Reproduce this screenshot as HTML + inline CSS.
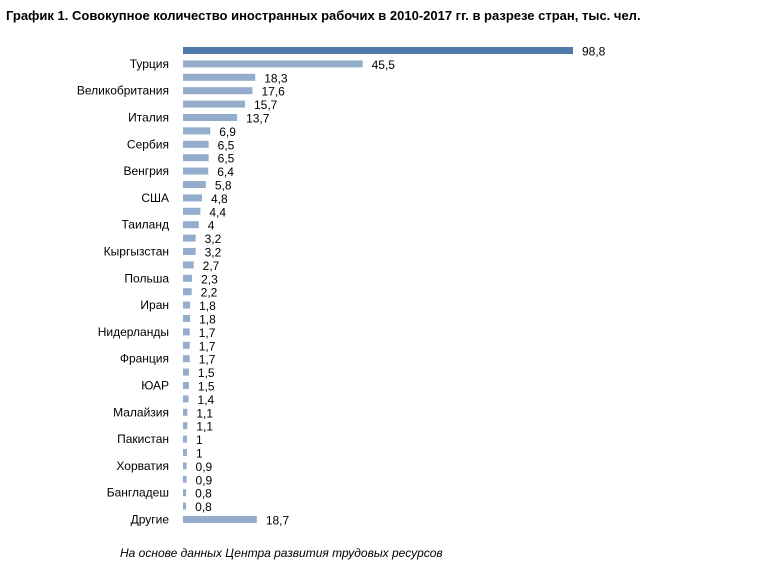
<!DOCTYPE html>
<html><head><meta charset="utf-8"><style>
body{margin:0;background:#fff;width:763px;height:573px;overflow:hidden;font-family:"Liberation Sans",sans-serif;}
</style></head><body>
<svg width="763" height="573" xmlns="http://www.w3.org/2000/svg">
<text x="6" y="20" font-size="13" font-weight="bold" fill="#000">График 1. Совокупное количество иностранных рабочих в 2010-2017 гг. в разрезе стран, тыс. чел.</text>
<g id="plot"></g>
<text x="120" y="557" font-size="12" font-style="italic" fill="#000">На основе данных Центра развития трудовых ресурсов</text>
</svg>
<script>
const categories=["","Турция","","Великобритания","","Италия","","Сербия","","Венгрия","","США","","Таиланд","","Кыргызстан","","Польша","","Иран","","Нидерланды","","Франция","","ЮАР","","Малайзия","","Пакистан","","Хорватия","","Бангладеш","","Другие"];
const values=[98.8,45.5,18.3,17.6,15.7,13.7,6.9,6.5,6.5,6.4,5.8,4.8,4.4,4,3.2,3.2,2.7,2.3,2.2,1.8,1.8,1.7,1.7,1.7,1.5,1.5,1.4,1.1,1.1,1,1,0.9,0.9,0.8,0.8,18.7];
const valueLabels=["98,8","45,5","18,3","17,6","15,7","13,7","6,9","6,5","6,5","6,4","5,8","4,8","4,4","4","3,2","3,2","2,7","2,3","2,2","1,8","1,8","1,7","1,7","1,7","1,5","1,5","1,4","1,1","1,1","1","1","0,9","0,9","0,8","0,8","18,7"];
const ns="http://www.w3.org/2000/svg";
const g=document.getElementById('plot');
const x0=183, pxPerUnit=390/98.8;
const xScale=v=>v*pxPerUnit;
const y0=50.5, step=(519.5-50.5)/35;
const yScale=i=>y0+i*step;
values.forEach((v,i)=>{
  const yc=yScale(i);
  const r=document.createElementNS(ns,'rect');
  r.setAttribute('x',x0);r.setAttribute('y',yc-3.5);
  r.setAttribute('width',Math.max(xScale(v),1.5));r.setAttribute('height',7);
  r.setAttribute('fill',i===0?'#4f79a8':'#95adcd');
  
  
  g.appendChild(r);
  const t=document.createElementNS(ns,'text');
  t.setAttribute('x',x0+xScale(v)+9);t.setAttribute('y',yc+5);
  t.setAttribute('font-size','12');t.textContent=valueLabels[i];
  
  
  g.appendChild(t);
  if(categories[i]){
    const c=document.createElementNS(ns,'text');
    c.setAttribute('x',169);c.setAttribute('y',yc+4);
    c.setAttribute('font-size','12');c.setAttribute('text-anchor','end');
    c.textContent=categories[i];
    
    
    g.appendChild(c);
  }
});
</script>
</body></html>
